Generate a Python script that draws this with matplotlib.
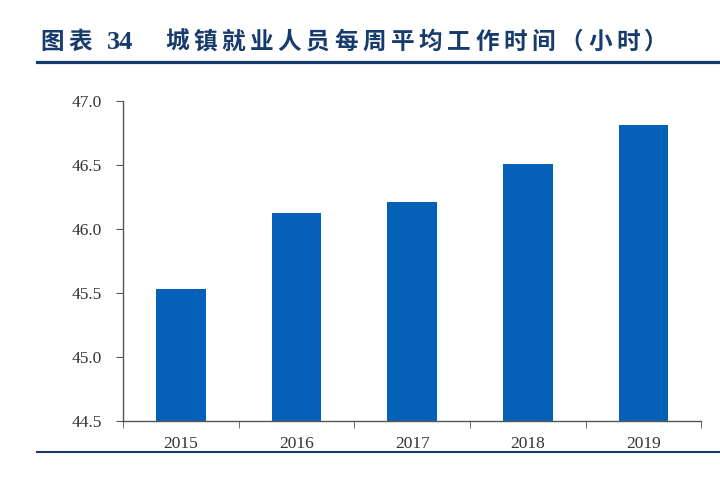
import matplotlib.pyplot as plt
import numpy as np

years = ['2015', '2016', '2017', '2018', '2019']
hours = [45.53, 46.12, 46.21, 46.51, 46.81]
y_ticks = [44.5, 45.0, 45.5, 46.0, 46.5, 47.0]
title_label = '图表'
title_num = '34'
title_text = '城镇就业人员每周平均工作时间（小时）'

title_color = '#173B6C'
bar_color = '#0561B7'
axis_color = '#555555'
cjk = ['Noto Sans CJK SC', 'DejaVu Sans']

plt.rcParams['font.family'] = ['Liberation Serif', 'DejaVu Serif']

fig = plt.figure(figsize=(7.2, 4.8), dpi=100)
ax = fig.add_axes([0.171, 0.123, 0.803, 0.667])

x = np.arange(len(years))
ax.bar(x, hours, width=0.43, color=bar_color)
ax.set_ylim(44.5, 47.0)
ax.set_xlim(-0.5, len(years) - 0.5)

ax.set_yticks(y_ticks)
ax.set_yticklabels([f'{v:.1f}' for v in y_ticks])
ax.set_xticks(x)
ax.set_xticklabels(years)
ax.set_xticks(np.arange(len(years) + 1) - 0.5, minor=True)

for s in ['top', 'right']:
    ax.spines[s].set_visible(False)
for s in ['left', 'bottom']:
    ax.spines[s].set_color(axis_color)
    ax.spines[s].set_linewidth(1.0)

ax.tick_params(axis='y', direction='out', length=5, color=axis_color,
               labelsize=12.5, labelcolor='#333333', pad=10)
ax.tick_params(axis='x', which='major', length=0, labelsize=12.5,
               labelcolor='#333333', pad=11)
ax.tick_params(axis='x', which='minor', direction='out', length=5,
               color=axis_color)

# title, one character per cell like the wide-spaced original
step = 28.2 / 720
base_y = 0.898
for i, ch in enumerate(title_label):
    fig.text(40 / 720 + i * step, base_y, ch, fontsize=17, fontweight='bold',
             color=title_color, family=cjk, va='baseline')
fig.text(107 / 720, base_y, title_num, fontsize=19, fontweight='bold',
         color=title_color, family='Liberation Serif', va='baseline')
for i, ch in enumerate(title_text):
    fig.text(165 / 720 + i * step, base_y, ch, fontsize=17, fontweight='bold',
             color=title_color, family=cjk, va='baseline')

fig.add_artist(plt.Line2D([0.052, 1.0], [0.871, 0.871], color=title_color,
                          linewidth=2.3, transform=fig.transFigure))
fig.add_artist(plt.Line2D([0.052, 1.0], [0.058, 0.058], color=title_color,
                          linewidth=1.5, transform=fig.transFigure))

fig.savefig('out.png', dpi=100)
